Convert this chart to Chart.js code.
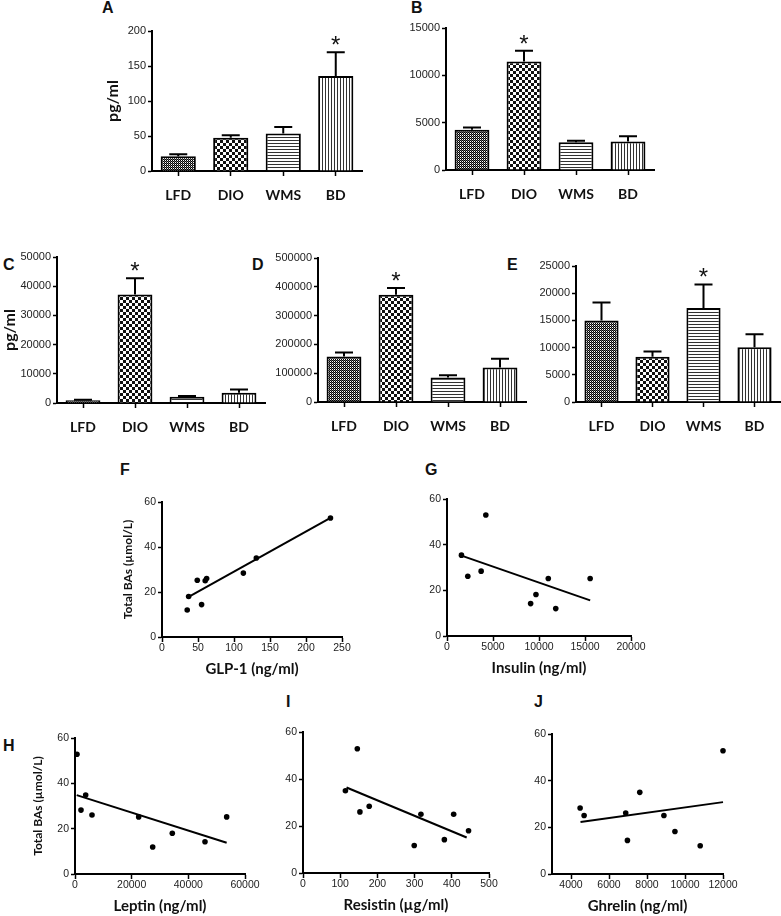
<!DOCTYPE html>
<html>
<head>
<meta charset="utf-8">
<script src="https://cdn.jsdelivr.net/npm/chart.js@4.4.1/dist/chart.umd.min.js"></script>
<style>
  body { margin: 0; background: #fff; width: 781px; height: 916px; position: relative; overflow: hidden; }
  canvas { position: absolute; }
  .tag { position: absolute; font: bold 16px "Liberation Sans", Arial, sans-serif; line-height: 16px; color: #111; }
</style>
</head>
<body>
<div class="tag" style="left:102px;top:0px">A</div>
<div class="tag" style="left:411px;top:0px">B</div>
<div class="tag" style="left:3px;top:257px">C</div>
<div class="tag" style="left:252px;top:257px">D</div>
<div class="tag" style="left:507px;top:257px">E</div>
<div class="tag" style="left:120px;top:462px">F</div>
<div class="tag" style="left:425px;top:462px">G</div>
<div class="tag" style="left:3px;top:738px">H</div>
<div class="tag" style="left:286px;top:694px">I</div>
<div class="tag" style="left:534px;top:694px">J</div>

<canvas id="cA"></canvas>
<canvas id="cB"></canvas>
<canvas id="cC"></canvas>
<canvas id="cD"></canvas>
<canvas id="cE"></canvas>
<canvas id="cF"></canvas>
<canvas id="cG"></canvas>
<canvas id="cH"></canvas>
<canvas id="cI"></canvas>
<canvas id="cJ"></canvas>

<script>
// ---- data ----
const groups = ['LFD', 'DIO', 'WMS', 'BD'];

const meanA = [21, 47.6, 53.4, 135.7];
const semA = [3, 3.5, 9.5, 34];
const starA = ['', '', '', '*'];
const ticksA = [0, 50, 100, 150, 200];

const meanB = [4240, 11470, 2930, 3000];
const semB = [240, 1130, 170, 570];
const starB = ['', '*', '', ''];
const ticksB = [0, 5000, 10000, 15000];

const meanC = [900, 37200, 2100, 3500];
const semC = [200, 5500, 300, 1100];
const starC = ['', '*', '', ''];
const ticksC = [0, 10000, 20000, 30000, 40000, 50000];

const meanD = [157800, 372000, 85000, 120000];
const semD = [13800, 23500, 8000, 30000];
const starD = ['', '*', '', ''];
const ticksD = [0, 100000, 200000, 300000, 400000, 500000];

const meanE = [15000, 8300, 17300, 10050];
const semE = [3300, 1000, 4300, 2400];
const starE = ['', '', '*', ''];
const ticksE = [0, 5000, 10000, 15000, 20000, 25000];

const basTicks = [0, 20, 40, 60];

const glp1 = [35, 37, 49, 55, 60, 62, 113, 131, 234];
const basF = [12, 18, 25.2, 14.4, 25, 26, 28.4, 35.1, 52.9];
const fitFx = [37, 234];
const fitFy = [17.8, 52.9];
const ticksFx = [0, 50, 100, 150, 200, 250];

const insulin = [1570, 4220, 2260, 3710, 11010, 15560, 9090, 9670, 11820];
const basG = [35.4, 53, 26.2, 28.4, 25.2, 25.2, 14.2, 18.2, 12];
const fitGx = [1570, 15560];
const fitGy = [35.2, 15.6];
const ticksGx = [0, 5000, 10000, 15000, 20000];

const leptin = [700, 2120, 3770, 6000, 22470, 27420, 34340, 45880, 53530];
const basH = [52.8, 28.2, 34.8, 26, 25.2, 11.9, 18, 14.2, 25.2];
const fitHx = [600, 53530];
const fitHy = [34.8, 13.8];
const ticksHx = [0, 20000, 40000, 60000];

const resistin = [114, 146, 153, 178, 299, 317, 380, 405, 445];
const basI = [35, 52.9, 26, 28.4, 11.7, 25, 14.2, 25, 18];
const fitIx = [117, 440];
const fitIy = [36.4, 15.1];
const ticksIx = [0, 100, 200, 300, 400, 500];

const ghrelin = [4480, 4690, 6880, 6970, 7620, 8890, 9470, 10800, 12000];
const basJ = [28.3, 25.1, 26.1, 14.4, 35, 25.1, 18.2, 12.1, 52.8];
const fitJx = [4500, 12000];
const fitJy = [22.3, 30.8];
const ticksJx = [4000, 6000, 8000, 10000, 12000];

// ---- drawing ----
Chart.defaults.font.family = '"Liberation Sans", Arial, sans-serif';
Chart.defaults.color = '#222';
Chart.defaults.animation = false;

function pattern(kind) {
  const c = document.createElement('canvas');
  const g = c.getContext('2d');
  if (kind === 'fine') {
    c.width = 2; c.height = 2;
    g.fillStyle = '#fff'; g.fillRect(0, 0, 2, 2);
    g.fillStyle = '#000'; g.fillRect(0, 0, 1, 1); g.fillRect(1, 1, 1, 1);
    g.fillStyle = '#666'; g.fillRect(1, 0, 1, 1);
  } else if (kind === 'check') {
    c.width = 6; c.height = 6;
    g.fillStyle = '#fff'; g.fillRect(0, 0, 6, 6);
    g.fillStyle = '#111'; g.fillRect(0, 0, 3, 3); g.fillRect(3, 3, 3, 3);
  } else if (kind === 'hline') {
    c.width = 3; c.height = 3;
    g.fillStyle = '#fff'; g.fillRect(0, 0, 3, 3);
    g.fillStyle = '#333'; g.fillRect(0, 0, 3, 1);
  } else {
    c.width = 3; c.height = 3;
    g.fillStyle = '#fff'; g.fillRect(0, 0, 3, 3);
    g.fillStyle = '#333'; g.fillRect(0, 0, 1, 3);
  }
  return g.createPattern(c, 'repeat');
}
const fills = [pattern('fine'), pattern('check'), pattern('hline'), pattern('vline')];

function place(id, box, yW, xH, padT, padR) {
  const cv = document.getElementById(id);
  cv.width = box[1] - box[0] + yW + padR;
  cv.height = box[3] - box[2] + padT + xH;
  cv.style.left = (box[0] - yW) + 'px';
  cv.style.top = (box[2] - padT) + 'px';
  return cv;
}

function axisBase(tl) {
  return {
    border: { display: true, color: '#000', width: 2 },
    grid: { display: true, drawOnChartArea: false, drawTicks: true, tickLength: tl, tickWidth: 1.5, tickColor: '#000', color: '#000' }
  };
}

function errPlugin(sem, stars) {
  return {
    id: 'errbars',
    afterDatasetsDraw(chart) {
      const { ctx } = chart;
      const y = chart.scales.y;
      const vals = chart.data.datasets[0].data;
      ctx.save();
      ctx.strokeStyle = '#000';
      ctx.lineWidth = 2;
      chart.getDatasetMeta(0).data.forEach((bar, i) => {
        const top = y.getPixelForValue(vals[i] + sem[i]);
        ctx.beginPath();
        ctx.moveTo(bar.x, bar.y);
        ctx.lineTo(bar.x, top);
        ctx.moveTo(bar.x - 9, top);
        ctx.lineTo(bar.x + 9, top);
        ctx.stroke();
        if (stars[i]) {
          ctx.font = '24px "Liberation Sans", Arial';
          ctx.textAlign = 'center';
          ctx.fillStyle = '#111';
          ctx.fillText(stars[i], bar.x, top + 1);
        }
      });
      ctx.restore();
    }
  };
}

function barPanel(id, box, means, sems, stars, yTicks, yW, yTitle) {
  const cv = place(id, box, yW, 42, 14, 4);
  const ya = axisBase(4);
  new Chart(cv, {
    type: 'bar',
    data: {
      labels: groups,
      datasets: [{
        data: means,
        backgroundColor: fills,
        borderColor: '#000',
        borderWidth: 2,
        barPercentage: 0.67,
        categoryPercentage: 1
      }]
    },
    options: {
      responsive: false,
      devicePixelRatio: 1,
      layout: { padding: { left: 0, top: 14, right: 4, bottom: 0 } },
      plugins: { legend: { display: false }, tooltip: { enabled: false } },
      scales: {
        x: {
          ...axisBase(5),
          grid: { ...axisBase(5).grid, offset: false },
          ticks: { color: '#111', padding: 11, font: { family: 'Lato', weight: 'bold', size: 14 } },
          afterFit: s => { s.height = 42; }
        },
        y: {
          ...ya,
          min: 0,
          max: yTicks[yTicks.length - 1],
          afterBuildTicks: s => { s.ticks = yTicks.map(v => ({ value: v })); },
          ticks: { padding: 2, font: { size: 11 }, callback: v => String(v) },
          title: { display: !!yTitle, text: yTitle || '', padding: 0, color: '#111', font: { family: 'Lato', weight: 'bold', size: 16 } },
          afterFit: s => { s.width = yW; }
        }
      }
    },
    plugins: [errPlugin(sems, stars)]
  });
}

function scatterPanel(id, box, xs, ys, fx, fy, xTicks, xMin, xTitle, yW, yTitle) {
  const cv = place(id, box, yW, 41, 10, 20);
  const pts = xs.map((x, i) => ({ x: x, y: ys[i] }));
  const fit = fx.map((x, i) => ({ x: x, y: fy[i] }));
  new Chart(cv, {
    type: 'scatter',
    data: {
      datasets: [
        { data: pts, pointRadius: 2.8, pointBackgroundColor: '#000', pointBorderWidth: 0, clip: false },
        { data: fit, showLine: true, borderColor: '#000', borderWidth: 2, pointRadius: 0, clip: false }
      ]
    },
    options: {
      responsive: false,
      devicePixelRatio: 1,
      layout: { padding: { left: 0, top: 10, right: 20, bottom: 0 } },
      plugins: { legend: { display: false }, tooltip: { enabled: false } },
      scales: {
        x: {
          ...axisBase(5),
          min: xMin,
          max: xTicks[xTicks.length - 1],
          afterBuildTicks: s => { s.ticks = xTicks.map(v => ({ value: v })); },
          ticks: { padding: 0, maxRotation: 0, font: { size: 10.5 }, callback: v => String(v) },
          title: { display: true, text: xTitle, padding: 0, color: '#111', font: { family: 'Lato', weight: 'bold', size: 15 } },
          afterFit: s => { s.height = 41; }
        },
        y: {
          ...axisBase(4),
          min: 0,
          max: 60,
          afterBuildTicks: s => { s.ticks = basTicks.map(v => ({ value: v })); },
          ticks: { padding: 2, font: { size: 10.5 }, callback: v => String(v) },
          title: { display: !!yTitle, text: yTitle || '', padding: 0, color: '#111', font: { family: 'Lato', weight: 'bold', size: 12 } },
          afterFit: s => { s.width = yW; }
        }
      }
    }
  });
}

const basLabel = 'Total BAs (\u00b5mol/L)';

barPanel('cA', [152, 362, 31, 171], meanA, semA, starA, ticksA, 49, 'pg/ml');
barPanel('cB', [446, 654, 28, 170], meanB, semB, starB, ticksB, 50);
barPanel('cC', [57, 265, 257, 403], meanC, semC, starC, ticksC, 57, 'pg/ml');
barPanel('cD', [318, 526, 258, 402], meanD, semD, starD, ticksD, 50);
barPanel('cE', [576, 780, 266, 402], meanE, semE, starE, ticksE, 50);

scatterPanel('cF', [162, 342, 502, 637], glp1, basF, fitFx, fitFy, ticksFx, 0, 'GLP-1 (ng/ml)', 41, basLabel);
scatterPanel('cG', [447, 631, 499, 636], insulin, basG, fitGx, fitGy, ticksGx, 0, 'Insulin (ng/ml)', 40);
scatterPanel('cH', [75, 245, 738, 874], leptin, basH, fitHx, fitHy, ticksHx, 0, 'Leptin (ng/ml)', 44, basLabel);
scatterPanel('cI', [303, 489, 732, 873], resistin, basI, fitIx, fitIy, ticksIx, 0, 'Resistin (\u00b5g/ml)', 40);
scatterPanel('cJ', [552, 723, 734, 874], ghrelin, basJ, fitJx, fitJy, ticksJx, 3000, 'Ghrelin (ng/ml)', 40);
</script>
</body>
</html>
